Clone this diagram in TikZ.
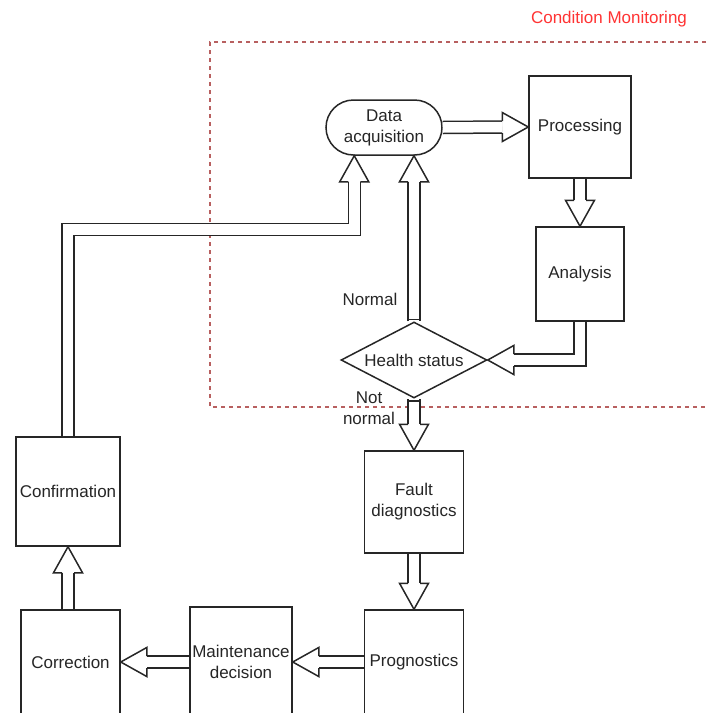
\documentclass[tikz,border=0pt]{standalone}
\usepackage{fontspec}
\setmainfont{Liberation Sans}
\usetikzlibrary{shapes.geometric,calc}
\definecolor{ink}{HTML}{262626}
\definecolor{cmframe}{RGB}{184,96,96}
\definecolor{cmlabel}{RGB}{255,51,51}
% open block-arrow head: #1 tip point, #2 direction it points to
\newcommand\blockhead[2]{%
  \draw[headtip, shift={(#1)}, rotate=#2]
    (-26,6) -- (-26,14.5) -- (0,0) -- (-26,-14.5) -- (-26,-6);}
% closing line across the start of a shaft
\newcommand\shaftcap[2]{%
  \draw[ink, line width=1.5pt, shift={(#1)}, rotate=#2] (0,-6.7) -- (0,6.7);}
\begin{document}
\begin{tikzpicture}[x=1pt,y=1pt,
  every node/.style={font=\fontsize{17}{21}\selectfont, text=ink, align=center},
  block/.style={draw=ink, line width=1.5pt, fill=white, inner sep=0pt},
  shaft/.style={draw=ink, line width=1.5pt, double=white, double distance=10.5pt},
  headtip/.style={draw=ink, line width=1.5pt, fill=white, line join=miter},
  frame/.style={draw=cmframe, line width=1.2pt, dash pattern=on 4pt off 4pt}]
\useasboundingbox (0,0) rectangle (709,-713);

% condition monitoring region
\draw[frame] (730,-42) -- (210,-42) -- (210,-407) -- (730,-407);
\node[text=cmlabel] (cmtitle) at (609,-19) {Condition Monitoring};

% process blocks
\node[block, rounded corners=27.5pt, minimum width=116pt, minimum height=55pt] (dacq) at (384,-127.5) {Data\\acquisition};
\node[block, minimum width=102pt, minimum height=102pt] (proc) at (580,-127) {Processing};
\node[block, minimum width=88pt, minimum height=94pt] (anal) at (580,-274) {Analysis};
\node[block, diamond, aspect=1.92, minimum width=146pt, minimum height=76pt] (health) at (414,-360) {Health status};
\node[block, minimum width=99pt, minimum height=102pt] (fault) at (414,-502) {Fault\\diagnostics};
\node[block, minimum width=99pt, minimum height=104pt] (prog) at (414,-662) {Prognostics};
\node[block, minimum width=102pt, minimum height=110pt] (maint) at (241,-662) {Maintenance\\decision};
\node[block, minimum width=99pt, minimum height=104pt] (corr) at (70.5,-662) {Correction};
\node[block, minimum width=104pt, minimum height=109pt] (conf) at (68,-491.5) {Confirmation};

% acquisition -> processing
\draw[shaft] (dacq.east) -- ($(proc.west)+(-26,0)$);
\blockhead{proc.west}{0}
% processing -> analysis
\draw[shaft] (proc.south) -- ($(anal.north)+(0,26)$);
\blockhead{anal.north}{-90}
% analysis -> health status
\draw[shaft] (anal.south) |- ($(health.east)+(26,0)$);
\blockhead{health.east}{180}
% health status (normal) -> acquisition
\coordinate (nrm) at (health.north |- dacq.south);
\draw[shaft] (health.north) -- ($(nrm)+(0,-26)$);
\shaftcap{$(health.north)+(0,2)$}{90}
\blockhead{nrm}{90}
% confirmation -> acquisition
\coordinate (cin) at ($(dacq.south west)+(29,0)$);
\draw[shaft] (conf.north) -- ++(0,207) -| ($(cin)+(0,-26)$);
\blockhead{cin}{90}
% health status (not normal) -> fault diagnostics
\draw[shaft] (health.south) -- ($(fault.north)+(0,26)$);
\shaftcap{$(health.south)+(0,-2)$}{90}
\blockhead{fault.north}{-90}
% fault diagnostics -> prognostics
\draw[shaft] (fault.south) -- ($(prog.north)+(0,26)$);
\blockhead{prog.north}{-90}
% prognostics -> maintenance decision
\draw[shaft] (prog.west) -- ($(maint.east)+(26,0)$);
\blockhead{maint.east}{180}
% maintenance decision -> correction
\draw[shaft] (maint.west) -- ($(corr.east)+(26,0)$);
\blockhead{corr.east}{180}
% correction -> confirmation
\draw[shaft] (conf.south |- corr.north) -- ($(conf.south)+(0,-26)$);
\blockhead{conf.south}{90}

% branch labels
\node (lnormal) at (370,-299) {Normal};
\node (lnot) at (369,-408.5) {Not\\normal};
\end{tikzpicture}
\end{document}
